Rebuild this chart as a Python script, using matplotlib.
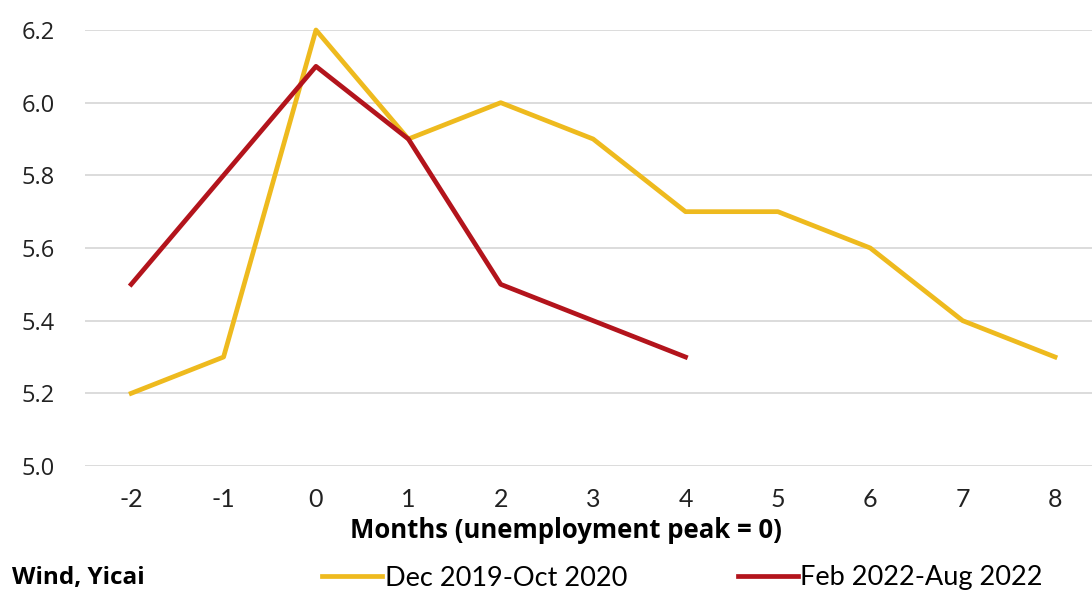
import matplotlib.pyplot as plt

plt.rcParams['font.family'] = ['Lato', 'DejaVu Sans']

months = [-2, -1, 0, 1, 2, 3, 4, 5, 6, 7, 8]
covid = [5.2, 5.3, 6.2, 5.9, 6.0, 5.9, 5.7, 5.7, 5.6, 5.4, 5.3]
months_2022 = [-2, -1, 0, 1, 2, 3, 4]
shanghai = [5.5, 5.8, 6.1, 5.9, 5.5, 5.4, 5.3]
yticks = [5.0, 5.2, 5.4, 5.6, 5.8, 6.0, 6.2]

yellow = '#EEBA1E'
red = '#B3141C'

fig = plt.figure(figsize=(10.92, 5.92), dpi=100)
ax = fig.add_axes([85 / 1092, 1 - 466 / 592, 1 - 85 / 1092, 436 / 592])

ax.plot(months, covid, color=yellow, lw=3.4, label='Dec 2019-Oct 2020', clip_on=False, zorder=3)
ax.plot(months_2022, shanghai, color=red, lw=3.4, label='Feb 2022-Aug 2022', clip_on=False, zorder=4)

ax.set_xlim(-2.5, 8.4)
ax.set_ylim(5.0, 6.2)
ax.set_xticks(months)
ax.set_xticklabels([str(m) for m in months], fontsize=18)
ax.set_yticks(yticks)
ax.set_yticklabels([f'{v:.1f}' for v in yticks], family='Open Sans', fontsize=17)
ax.grid(axis='y', color='#D9D9D9', lw=1.3)
ax.set_axisbelow(True)
for s in ax.spines.values():
    s.set_visible(False)
ax.tick_params(length=0, colors='#222222')
ax.tick_params(axis='x', pad=16)
ax.tick_params(axis='y', pad=22)

ax.set_xlabel('Months (unemployment peak = 0)', family='Open Sans', fontsize=18.5,
              fontweight='bold', labelpad=4)
# label sits centred under the ticks -2..8, not the whole (clipped) axes
ax.xaxis.label.set_x((566 - 85) / 1007)

fig.text(12 / 1092, 1 - 578 / 592, 'Wind, Yicai', family='Open Sans', fontsize=17.5,
         fontweight='bold', va='center')
fig.legend(loc='center left', bbox_to_anchor=(298 / 1092, 1 - 578 / 592), ncol=2, frameon=False,
           fontsize=19.5, handlelength=2.2, handletextpad=0.1, columnspacing=4.1)

fig.savefig('out.png', dpi=100)
